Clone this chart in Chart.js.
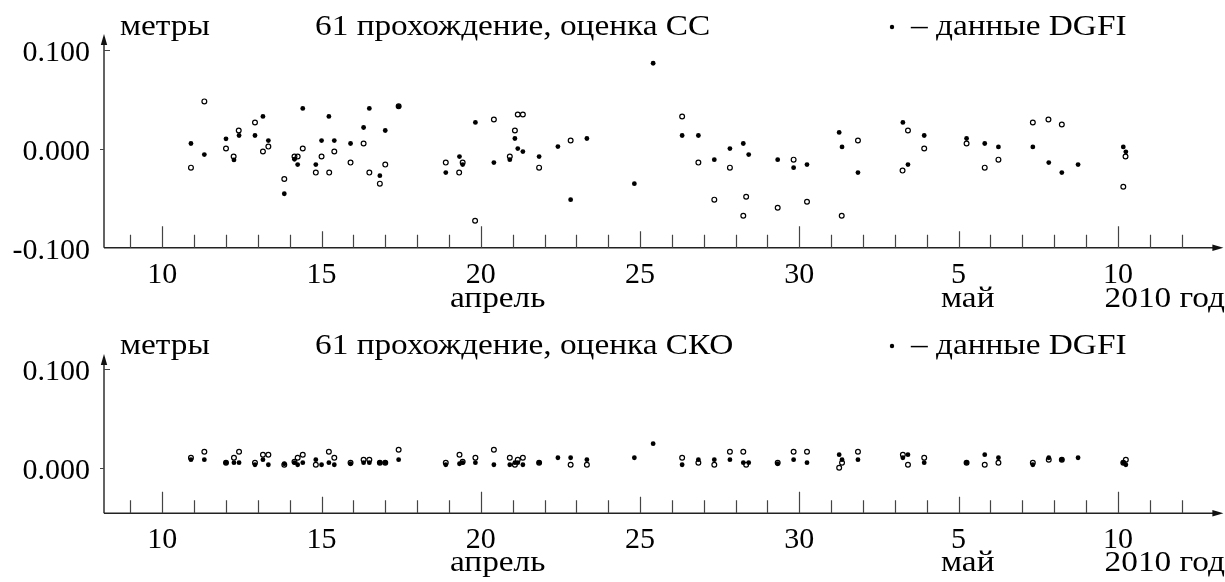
<!DOCTYPE html>
<html lang="ru">
<head>
<meta charset="utf-8">
<title>61 прохождение</title>
<script src="https://cdn.jsdelivr.net/npm/chart.js@4"></script>
<style>
  html, body { margin: 0; padding: 0; background: #fff; }
  body { width: 1225px; height: 582px; position: relative; overflow: hidden; }
  canvas { position: absolute; left: 0; }
  #ccChart { top: 0; }
  #skoChart { top: 290px; }
</style>
</head>
<body>
<canvas id="ccChart" width="1225" height="320"></canvas>
<canvas id="skoChart" width="1225" height="292"></canvas>
<script>
// time of each pass, days counted from 1 April 2010 (so 35 = 5 May)
const passDays = [
  10.90, 11.32, 12.00, 12.25, 12.41, 12.91, 13.16, 13.33, 13.83, 14.15,
  14.25, 14.41, 14.82, 15.00, 15.23, 15.40, 15.91, 16.32, 16.50, 16.83,
  17.00, 17.42, 18.90, 19.33, 19.43, 19.83, 20.41, 20.91, 21.07, 21.16,
  21.32, 21.83, 22.42, 22.82, 23.33, 24.82, 25.41, 26.32, 26.83, 27.33,
  27.82, 28.24, 28.41, 29.32, 29.82, 30.24, 31.25, 31.34, 31.84, 33.25,
  33.41, 33.92, 35.25, 35.82, 36.25, 37.33, 37.83, 38.24, 38.75, 40.17,
  40.25
];

// DGFI values, metres
const ccDgfi = [
  0.0054, -0.0058, 0.0102, -0.0112, 0.0135, 0.0135, 0.0328, 0.0084, -0.0454, -0.0105,
  -0.0159, 0.0409, -0.0159, 0.0084, 0.0328, 0.0084, 0.0054, 0.0216, 0.0409, -0.0271,
  0.0186, 0.0430, -0.0240, -0.0078, -0.0159, 0.0267, -0.0139, -0.0109, 0.0105, 0.0003,
  -0.0027, -0.0078, 0.0023, -0.0514, 0.0105, -0.0352, 0.0866, 0.0135, 0.0135, -0.0109,
  0.0003, 0.0054, -0.0058, -0.0109, -0.0190, -0.0159, 0.0166, 0.0020, -0.0240, 0.0267,
  -0.0159, 0.0135, 0.0105, 0.0054, 0.0020, 0.0020, -0.0139, -0.0240, -0.0159, 0.0020,
  -0.0030
];
const skoDgfi = [
  0.0081, 0.0081, 0.0051, 0.0051, 0.0051, 0.0030, 0.0081, 0.0030, 0.0040, 0.0051,
  0.0030, 0.0051, 0.0081, 0.0030, 0.0051, 0.0030, 0.0040, 0.0051, 0.0051, 0.0051,
  0.0051, 0.0081, 0.0030, 0.0040, 0.0051, 0.0051, 0.0030, 0.0030, 0.0051, 0.0051,
  0.0030, 0.0051, 0.0101, 0.0101, 0.0081, 0.0101, 0.0243, 0.0030, 0.0081, 0.0081,
  0.0081, 0.0051, 0.0051, 0.0040, 0.0081, 0.0051, 0.0132, 0.0081, 0.0081, 0.0101,
  0.0132, 0.0051, 0.0051, 0.0132, 0.0101, 0.0030, 0.0101, 0.0081, 0.0101, 0.0051,
  0.0030
];

// own estimates (open circles)
const ccOwnDays = [
  10.90, 11.32, 12.00, 12.24, 12.40, 12.91, 13.16, 13.33, 13.83, 14.15,
  14.25, 14.41, 14.82, 15.00, 15.24, 15.40, 15.91, 16.32, 16.50, 16.83,
  17.00, 17.42, 18.90, 19.32, 19.43, 19.82, 20.41, 20.91, 21.07, 21.16,
  21.32, 21.83, 22.82, 26.32, 26.83, 27.33, 27.82, 28.24, 28.33, 29.32,
  29.82, 30.24, 31.33, 31.84, 33.24, 33.41, 33.92, 35.25, 35.82, 36.25,
  37.33, 37.82, 38.24, 40.17, 40.24
];
const ccOwn = [
  -0.0190, 0.0480, 0.0003, -0.0078, 0.0186, 0.0267, -0.0027, 0.0023, -0.0305, -0.0078,
  -0.0078, 0.0003, -0.0240, -0.0078, -0.0240, -0.0027, -0.0139, 0.0054, -0.0240, -0.0352,
  -0.0159, 0.0430, -0.0139, -0.0240, -0.0139, -0.0728, 0.0297, -0.0078, 0.0186, 0.0348,
  0.0348, -0.0190, 0.0084, 0.0328, -0.0139, -0.0514, -0.0190, -0.0677, -0.0484, -0.0596,
  -0.0109, -0.0535, -0.0677, 0.0084, -0.0220, 0.0186, 0.0003, 0.0054, -0.0190, -0.0109,
  0.0267, 0.0297, 0.0247, -0.0383, -0.0078
];
const skoOwnDays = [
  10.90, 11.32, 12.00, 12.25, 12.41, 12.91, 13.16, 13.33, 13.83, 14.15,
  14.25, 14.41, 14.82, 15.23, 15.40, 15.91, 16.32, 16.50, 16.83, 17.00,
  17.42, 18.90, 19.33, 19.43, 19.83, 20.41, 20.91, 21.07, 21.16, 21.32,
  21.83, 22.82, 23.33, 26.32, 26.83, 27.33, 27.82, 28.24, 28.33, 29.32,
  29.82, 30.24, 31.25, 31.34, 31.84, 33.25, 33.41, 33.92, 35.25, 35.82,
  36.25, 37.33, 37.83, 38.24, 40.17, 40.25
];
const skoOwn = [
  0.0101, 0.0162, 0.0050, 0.0101, 0.0162, 0.0050, 0.0132, 0.0132, 0.0030, 0.0061,
  0.0101, 0.0132, 0.0030, 0.0162, 0.0101, 0.0050, 0.0081, 0.0081, 0.0050, 0.0050,
  0.0182, 0.0050, 0.0132, 0.0061, 0.0101, 0.0182, 0.0101, 0.0030, 0.0081, 0.0101,
  0.0050, 0.0030, 0.0030, 0.0101, 0.0050, 0.0030, 0.0162, 0.0162, 0.0030, 0.0050,
  0.0162, 0.0162, 0.0000, 0.0050, 0.0162, 0.0132, 0.0030, 0.0101, 0.0050, 0.0030,
  0.0050, 0.0050, 0.0081, 0.0081, 0.0050, 0.0081
];

const dayTicks = [10, 15, 20, 25, 30, 35, 40];
const dayTickLabels = ["10", "15", "20", "25", "30", "5", "10"];
const ccValueTicks = [-0.1, 0, 0.1];
const skoValueTicks = [0, 0.1];

const FONT = '"Liberation Serif", "DejaVu Serif", serif';
const TEXT_STRETCH = 1.11;

const toPoints = (xs, ys) => xs.map((d, i) => ({ x: d, y: ys[i] }));

// captions are set a little wider than the stock face
function wideText(ctx, text, x, y, align) {
  ctx.save();
  ctx.translate(x, y);
  ctx.scale(TEXT_STRETCH, 1);
  ctx.textAlign = align || 'left';
  ctx.fillText(text, 0, 0);
  ctx.restore();
}

// axes with arrows, day ticks and the text around each panel
const framePlugin = {
  id: 'frame',
  afterDraw(chart, args, opts) {
    const { ctx, chartArea: a, scales: { x, y } } = chart;
    ctx.save();

    ctx.strokeStyle = '#222';
    ctx.lineWidth = 1.4;
    ctx.beginPath();
    ctx.moveTo(a.left, a.bottom);
    ctx.lineTo(a.right - 6, a.bottom);
    ctx.moveTo(a.left, a.bottom);
    ctx.lineTo(a.left, a.top + 6);
    ctx.stroke();

    ctx.fillStyle = '#111';
    ctx.beginPath();
    ctx.moveTo(a.right + 2, a.bottom);
    ctx.lineTo(a.right - 9, a.bottom - 3.2);
    ctx.lineTo(a.right - 9, a.bottom + 3.2);
    ctx.closePath();
    ctx.fill();
    ctx.beginPath();
    ctx.moveTo(a.left, a.top - 1);
    ctx.lineTo(a.left - 3.2, a.top + 10);
    ctx.lineTo(a.left + 3.2, a.top + 10);
    ctx.closePath();
    ctx.fill();

    // one tick per day, longer every 5 and 10 days
    ctx.strokeStyle = '#444';
    ctx.lineWidth = 1.2;
    ctx.beginPath();
    for (let d = Math.ceil(x.min); d < x.max - 1; d++) {
      const px = Math.round(x.getPixelForValue(d)) + 0.5;
      const len = d % 10 === 0 ? 21.5 : (d % 5 === 0 ? 16.5 : 13);
      ctx.moveTo(px, a.bottom);
      ctx.lineTo(px, a.bottom - len);
    }
    // short marks on the value axis
    const y0 = Math.round(y.getPixelForValue(0)) + 0.5;
    const y1 = Math.round(y.getPixelForValue(0.1)) + 0.5;
    ctx.moveTo(a.left - 4, y0);
    ctx.lineTo(a.left, y0);
    ctx.moveTo(a.left, y1);
    ctx.lineTo(a.left + 6, y1);
    ctx.stroke();

    // headings
    ctx.fillStyle = '#000';
    ctx.font = '30px ' + FONT;
    ctx.textBaseline = 'alphabetic';
    wideText(ctx, 'метры', 120, opts.headY);
    wideText(ctx, opts.title, 315, opts.headY);
    ctx.beginPath();
    ctx.arc(892, opts.headY - 8, 2.2, 0, Math.PI * 2);
    ctx.fill();
    wideText(ctx, '– данные DGFI', 911, opts.headY);

    // month / year captions under the day labels
    wideText(ctx, 'апрель', 450, opts.monthY);
    wideText(ctx, 'май', 941, opts.monthY);
    wideText(ctx, '2010 год', 1225, opts.monthY, 'right');

    ctx.restore();
  }
};

function makePanel(canvasId, cfg) {
  return new Chart(document.getElementById(canvasId), {
    type: 'scatter',
    data: {
      datasets: [
        {
          label: 'данные DGFI',
          data: toPoints(passDays, cfg.dgfi),
          pointRadius: 2.4,
          pointHoverRadius: 2.4,
          pointBorderWidth: 0,
          pointBackgroundColor: '#000'
        },
        {
          label: 'оценка',
          data: toPoints(cfg.ownDays, cfg.own),
          pointRadius: 2.4,
          pointHoverRadius: 2.4,
          pointBorderWidth: 1.2,
          pointBorderColor: '#000',
          pointBackgroundColor: 'rgba(0,0,0,0)'
        }
      ]
    },
    options: {
      responsive: false,
      animation: false,
      devicePixelRatio: 1,
      layout: { padding: { top: cfg.areaTop, left: 0, right: 3, bottom: 0 } },
      plugins: {
        legend: { display: false },
        tooltip: { enabled: false },
        frame: { title: cfg.title, headY: cfg.headY, monthY: cfg.monthY }
      },
      scales: {
        x: {
          type: 'linear',
          min: 8.17,
          max: 43.25,
          border: { display: false },
          grid: { display: false, drawTicks: false },
          afterBuildTicks: (scale) => { scale.ticks = dayTicks.map(v => ({ value: v })); },
          afterFit: (scale) => { scale.height = cfg.xHeight; },
          ticks: {
            autoSkip: false,
            maxRotation: 0,
            padding: 9,
            color: '#000',
            font: { family: FONT, size: 30 },
            callback: (v, i) => dayTickLabels[i]
          }
        },
        y: {
          min: cfg.yMin,
          max: cfg.yMax,
          border: { display: false },
          grid: { display: false, drawTicks: false },
          afterBuildTicks: (scale) => { scale.ticks = cfg.valueTicks.map(v => ({ value: v })); },
          afterFit: (scale) => { scale.width = 104; },
          ticks: {
            padding: 14,
            labelOffset: 3,
            color: '#000',
            font: { family: FONT, size: 30 },
            callback: (v) => v.toFixed(3)
          }
        }
      }
    },
    plugins: [framePlugin]
  });
}

makePanel('ccChart', {
  title: '61 прохождение, оценка СС',
  dgfi: ccDgfi, ownDays: ccOwnDays, own: ccOwn,
  valueTicks: ccValueTicks,
  yMin: -0.1, yMax: 0.1152,
  areaTop: 35, xHeight: 72.3,
  headY: 35, monthY: 307
});

makePanel('skoChart', {
  title: '61 прохождение, оценка СКО',
  dgfi: skoDgfi, ownDays: skoOwnDays, own: skoOwn,
  valueTicks: skoValueTicks,
  yMin: -0.0462, yMax: 0.1142,
  areaTop: 65, xHeight: 68.7,
  headY: 64, monthY: 281
});
</script>
</body>
</html>
